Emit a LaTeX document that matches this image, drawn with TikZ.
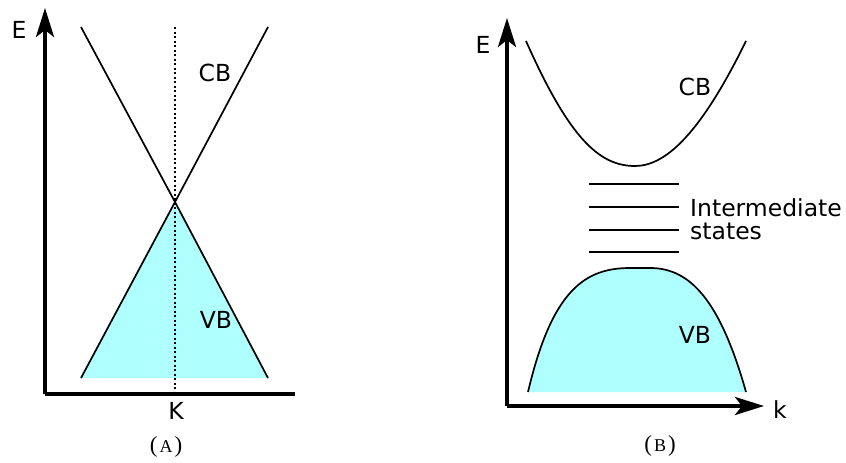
\documentclass[tikz,border=0pt]{standalone}
\usepackage{fontspec}
\newfontfamily\lblfont{DejaVu Sans}
\newfontfamily\capfont{Liberation Serif}
\usetikzlibrary{arrows.meta}

\begin{document}
\begin{tikzpicture}[x=1pt, y=-1pt, line cap=butt, line join=round,
    axis/.style={line width=4pt},
    band/.style={line width=1.7pt},
    level/.style={line width=2.6pt},
    vbfill/.style={fill={rgb,255:red,175;green,255;blue,255}},
    lbl/.style={font=\lblfont\fontsize{23.5}{28}\selectfont, inner sep=0pt, anchor=base},
    captxt/.style={font=\capfont\fontsize{23}{27}\selectfont, inner sep=0pt},
    >={Stealth[length=29pt, width=18pt, inset=7pt]}]
  \useasboundingbox (0,0) rectangle (846,463);
  % --- (A): linear bands touching at K -------------------------------
  \coordinate (oA) at (45,394);
  \coordinate (dirac) at (175,202);
  \fill[vbfill] (81,378) -- (dirac) -- (268,378) -- cycle;
  \draw[band] (81,378) -- (dirac) -- (268,27);
  \draw[band] (81,27) -- (dirac) -- (268,378);
  \draw[line width=2pt, dash pattern=on 2pt off 2.5pt] (175,27) -- (175,392);
  \draw[axis, ->] (oA) -- (45,8);
  \draw[axis] (oA) -- (295,394);
  \node[lbl] (EA) at (19,38) {E};
  \node[lbl] (K) at (176,419) {K};
  \node[lbl] (CBA) at (215,81) {CB};
  \node[lbl] (VBA) at (216,328) {VB};
  \node[captxt] (capA) at (166,447) {(\kern2pt{\fontsize{18}{21}\selectfont A}\kern2pt)};
  % --- (B): parabolic bands with levels in the gap --------------------
  \coordinate (oB) at (507,406);
  \fill[vbfill] (528,392) .. controls (552,290) and (585,268) .. (630,268)
      -- (650,268) .. controls (690,268) and (720,300) .. (746,392) -- cycle;
  \draw[band] (528,392) .. controls (552,290) and (585,268) .. (630,268)
      -- (650,268) .. controls (690,268) and (720,300) .. (746,392);
  \draw[band] (526,41) .. controls (570,140) and (600,166) .. (635,166)
      .. controls (665,166) and (700,135) .. (746,41);
  \foreach \y in {184,207,230,252}
    \draw[level] (589,\y) -- (679,\y);
  \draw[axis, ->] (oB) -- (507,18);
  \draw[axis, ->] (oB) -- (764,406);
  \node[lbl] (EB) at (483,53) {E};
  \node[lbl] (k) at (780,418) {k};
  \node[lbl] (CBB) at (695,95) {CB};
  \node[lbl] (VBB) at (695,343) {VB};
  \node[lbl, anchor=base west] (inter) at (690,216) {Intermediate};
  \node[lbl, anchor=base west] (states) at (690,239) {states};
  \node[captxt] (capB) at (660,446) {(\kern2pt{\fontsize{18}{21}\selectfont B}\kern2pt)};
\end{tikzpicture}
\end{document}
